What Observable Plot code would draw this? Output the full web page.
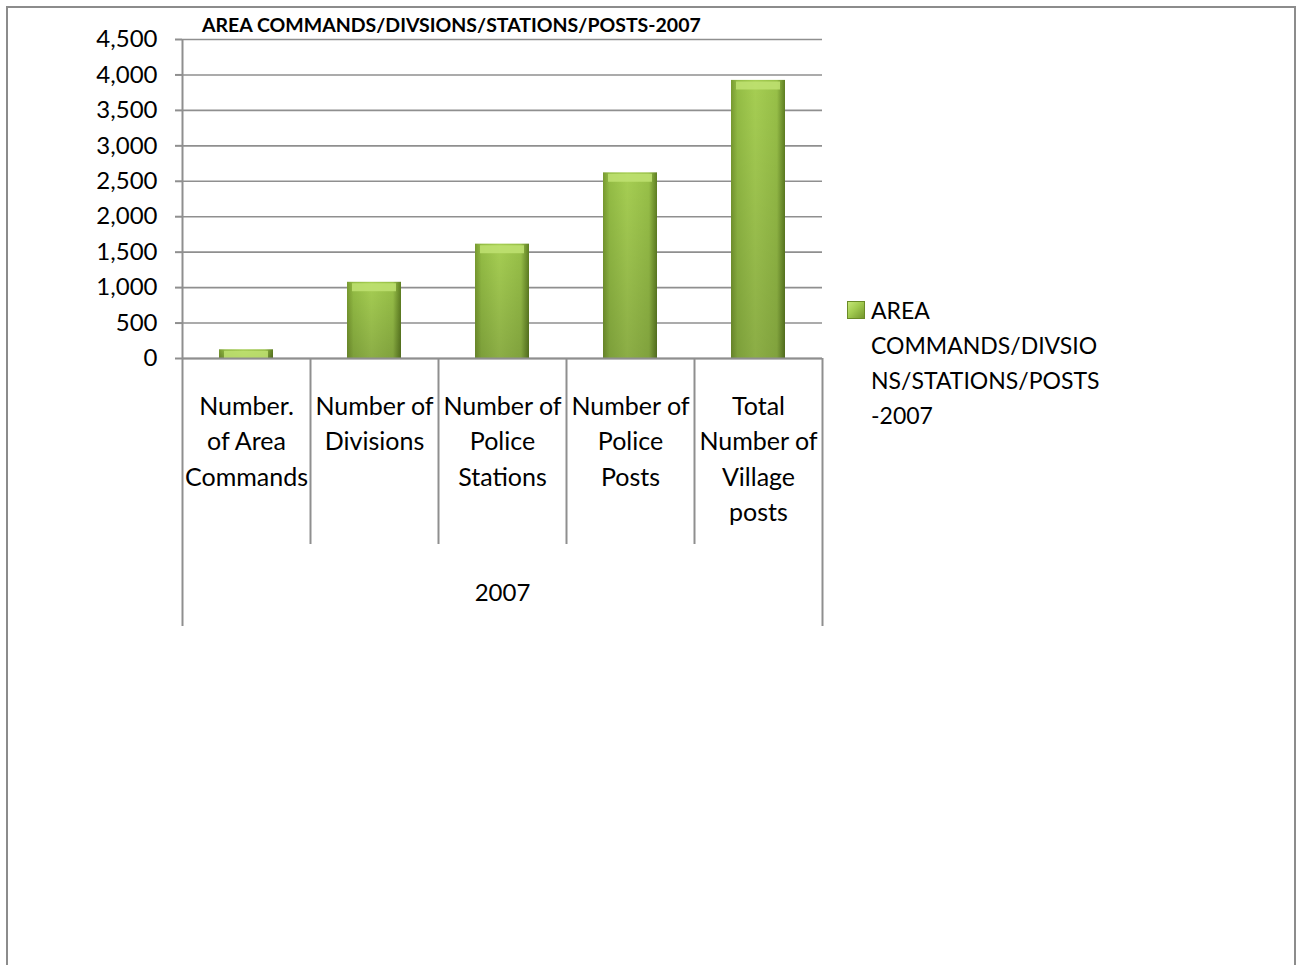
<!DOCTYPE html>
<html>
<head>
<meta charset="utf-8">
<script src="https://cdn.jsdelivr.net/npm/d3@7"></script>
<script src="https://cdn.jsdelivr.net/npm/@observablehq/plot@0.6"></script>
<style>
  body { margin: 0; background: #fff; font-family: Lato, sans-serif; }
  #wrap { position: relative; width: 1297px; height: 965px; overflow: hidden; background: #fff; }
  #border { position: absolute; left: 6px; top: 6px; width: 1290px; height: 1100px; border: 2px solid #8c8c8c; box-sizing: border-box; }
  #chart { position: absolute; left: 0; top: 0; }
  #title { position: absolute; left: 202px; top: 15px; font: bold 19.5px Lato, sans-serif; line-height: 20px; color: #000; white-space: nowrap; }
  #legend { position: absolute; left: 847px; top: 293px; font: 23px Lato, sans-serif; line-height: 35px; color: #000; }
  #legend .sw { position: absolute; left: 0; top: 8px; width: 18px; height: 18px; background: linear-gradient(135deg, #c9ea7c 0%, #a2cb50 45%, #6f9129 100%); box-shadow: inset 0 0 0 1px #6a8b27; }
  #legend .txt { position: absolute; left: 24px; top: 0; white-space: nowrap; }
</style>
</head>
<body>
<svg width="0" height="0" style="position:absolute">
  <defs>
    <linearGradient id="barGrad" x1="0" x2="1" y1="0" y2="0">
      <stop offset="0" stop-color="#789a30"/>
      <stop offset="0.12" stop-color="#94bd45"/>
      <stop offset="0.45" stop-color="#a6ce53"/>
      <stop offset="0.85" stop-color="#98c048"/>
      <stop offset="1" stop-color="#5e7e22"/>
    </linearGradient>
    <linearGradient id="barShade" x1="0" x2="0" y1="0" y2="1">
      <stop offset="0" stop-color="#000" stop-opacity="0"/>
      <stop offset="1" stop-color="#000" stop-opacity="0.16"/>
    </linearGradient>
  </defs>
</svg>
<div id="wrap">
  <div id="border"></div>
  <div id="chart"></div>
  <div id="title">AREA COMMANDS/DIVSIONS/STATIONS/POSTS-2007</div>
  <div id="legend"><div class="sw"></div><div class="txt">AREA<br>COMMANDS/DIVSIO<br>NS/STATIONS/POSTS<br>-2007</div></div>
</div>
<script>
// Data
const categories = [
  "Number. of Area Commands",
  "Number of Divisions",
  "Number of Police Stations",
  "Number of Police Posts",
  "Total Number of Village posts"
];
const categoryLabels = [
  "Number.\nof Area\nCommands",
  "Number of\nDivisions",
  "Number of\nPolice\nStations",
  "Number of\nPolice\nPosts",
  "Total\nNumber of\nVillage\nposts"
];
const values2007 = [123, 1075, 1613, 2619, 3923];
const yTicks = [0, 500, 1000, 1500, 2000, 2500, 3000, 3500, 4000, 4500];
const groupLabel = ["2007"];

const rows = categories.map((c, i) => ({category: c, value: values2007[i], label: categoryLabels[i]}));
const grey = "#8f8f8f";

const chart = Plot.plot({
  width: 1297,
  height: 965,
  marginLeft: 182,
  marginRight: 475,
  marginTop: 39,
  marginBottom: 607,
  style: {fontFamily: "Lato, sans-serif", fontSize: "24px", background: "transparent", color: "#000"},
  x: {domain: categories, padding: 0, label: null},
  y: {domain: [0, 4500], label: null},
  marks: [
    Plot.gridY(yTicks, {stroke: grey, strokeOpacity: 1, strokeWidth: 1.6}),
    Plot.barY(rows, {x: "category", y: "value", fill: "url(#barGrad)", insetLeft: 37, insetRight: 37}),
    Plot.barY(rows, {x: "category", y: "value", fill: "url(#barShade)", insetLeft: 37, insetRight: 37}),
    Plot.tickY(rows, {x: "category", y: "value", stroke: "#bfe272", strokeOpacity: 0.85, strokeWidth: 8, dy: 5, insetLeft: 42, insetRight: 42}),
    Plot.ruleY([0], {stroke: grey, strokeWidth: 2}),
    Plot.ruleX([categories[0]], {x: d => d, dx: -64, stroke: grey, strokeWidth: 2}),
    Plot.axisY({ticks: yTicks, tickFormat: d3.format(","), tickSize: 7, tickPadding: 18, stroke: grey, strokeWidth: 2, fill: "#000", label: null, fontSize: 24}),
    Plot.axisX({ticks: categories.slice(1), tickSize: 186, dx: -64, fill: "none", stroke: grey, strokeWidth: 2, label: null}),
    Plot.axisX({ticks: [categories[0]], tickSize: 268, dx: -64, fill: "none", stroke: grey, strokeWidth: 2, label: null}),
    Plot.axisX({ticks: [categories[categories.length - 1]], tickSize: 268, dx: 64, fill: "none", stroke: grey, strokeWidth: 2, label: null}),
    Plot.text(rows, {x: "category", text: "label", frameAnchor: "bottom", lineAnchor: "top", dy: 31, lineHeight: 1.42, fontSize: 25, fill: "#000"}),
    Plot.text(groupLabel, {text: d => d, frameAnchor: "bottom", lineAnchor: "middle", dy: 235, fontSize: 24, fill: "#000"})
  ]
});
document.getElementById("chart").appendChild(chart);
</script>
</body>
</html>
